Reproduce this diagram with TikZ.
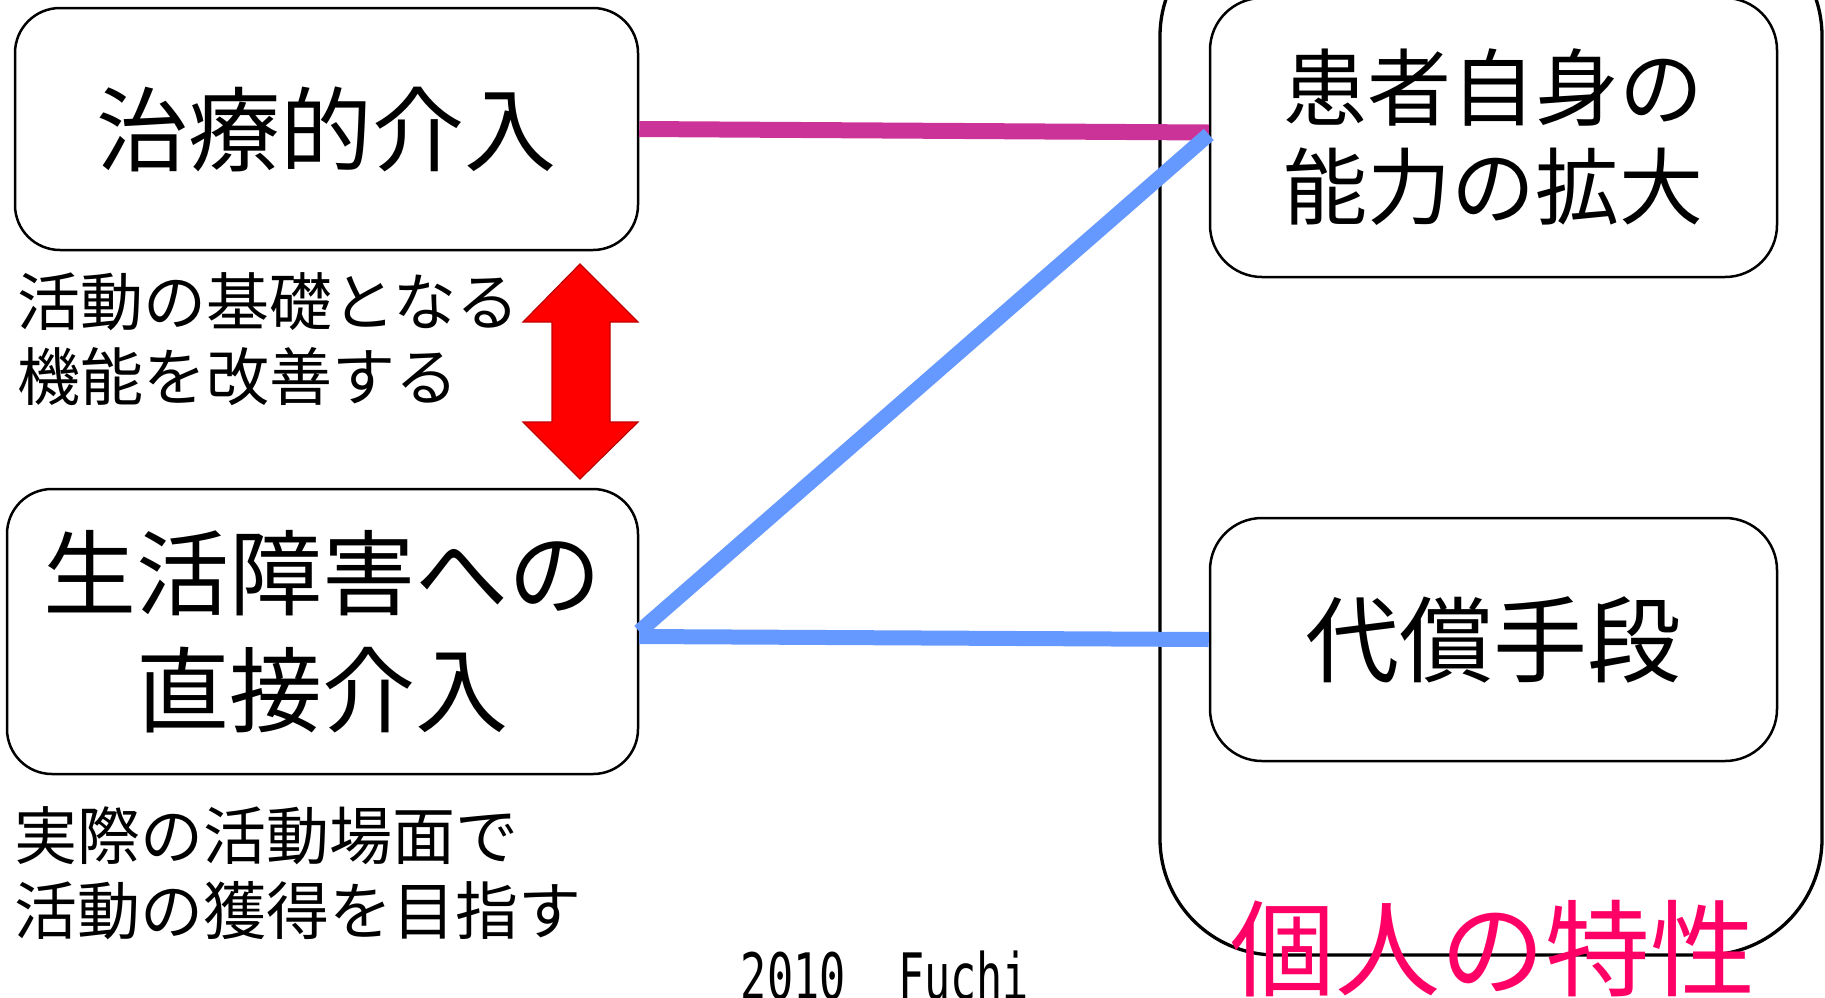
\documentclass[tikz,border=0pt]{standalone}
\usepackage{fontspec}
\setmainfont{Noto Sans CJK JP}
\newfontfamily\jpfont{Noto Sans CJK JP}
\newfontfamily\monofnt{DejaVu Sans Mono}
\usetikzlibrary{calc}
\definecolor{linkpink}{RGB}{204,51,153}
\definecolor{linkblue}{RGB}{102,153,255}
\definecolor{traitpink}{RGB}{255,0,102}
\definecolor{arrowred}{RGB}{255,0,0}
\definecolor{arrowdark}{RGB}{190,0,0}
\tikzset{
  boxnode/.style={draw=black, line width=2.5pt, rounded corners=45pt, fill=white, inner sep=0pt, align=center},
  framenode/.style={draw=black, line width=3.3pt, rounded corners=116pt, inner sep=0pt},
  notetext/.style={inner sep=0pt, anchor=west, align=left, font=\jpfont\fontsize{63}{75}\selectfont},
  pinklink/.style={draw=linkpink, line width=16pt},
  bluelink/.style={draw=linkblue, line width=15pt}
}
\begin{document}
\begin{tikzpicture}[x=1pt,y=-1pt]
\useasboundingbox (0,0) rectangle (1825,997);
% outer frame
\node[framenode, minimum width=662pt, minimum height=1035pt] (frame) at (1491,437.5) {};
% boxes
\node[boxnode, minimum width=623pt, minimum height=242pt, font=\jpfont\fontsize{92}{110}\selectfont] (b1) at (326.5,129) {治療的介入};
\node[boxnode, minimum width=631pt, minimum height=285pt, font=\jpfont\fontsize{93}{117}\selectfont] (b2) at (322.5,631.5) {生活障害への\\直接介入};
\node[boxnode, rounded corners=52pt, minimum width=567pt, minimum height=279pt, font=\jpfont\fontsize{84}{99}\selectfont] (b3) at (1493.5,137.5) {患者自身の\\能力の拡大};
\node[boxnode, rounded corners=52pt, minimum width=567pt, minimum height=243pt, font=\jpfont\fontsize{94}{110}\selectfont] (b4) at (1493.5,639.5) {代償手段};
% connectors
\draw[pinklink] (b1.east) -- ($(b3.west)+(0,-5)$);
\draw[bluelink] (b2.east) -- ($(b3.west)+(0,-3)$);
\draw[bluelink] ($(b2.east)+(0,5)$) -- (b4.west);
% notes
\node[notetext] (n1) at (17,339) {活動の基礎となる\\機能を改善する};
\node[notetext] (n2) at (14,873) {実際の活動場面で\\活動の獲得を目指す};
% trait label
\node[inner sep=0pt, text=traitpink, font=\jpfont\fontsize{105}{105}\selectfont] (trait) at (1493,949) {個人の特性};
% credit
\node[inner sep=0pt] (credit) at (885,976) {\scalebox{0.68}[1]{\monofnt\fontsize{64}{64}\selectfont 2010\ \ Fuchi}};
% red double arrow
\fill[arrowred, draw=arrowdark, line width=1.2pt, line join=miter]
  (580,264) -- (638,322) -- (610,322) -- (610,422) -- (638,422) -- (580,479)
  -- (523,422) -- (552,422) -- (552,322) -- (523,322) -- cycle;
\end{tikzpicture}
\end{document}
